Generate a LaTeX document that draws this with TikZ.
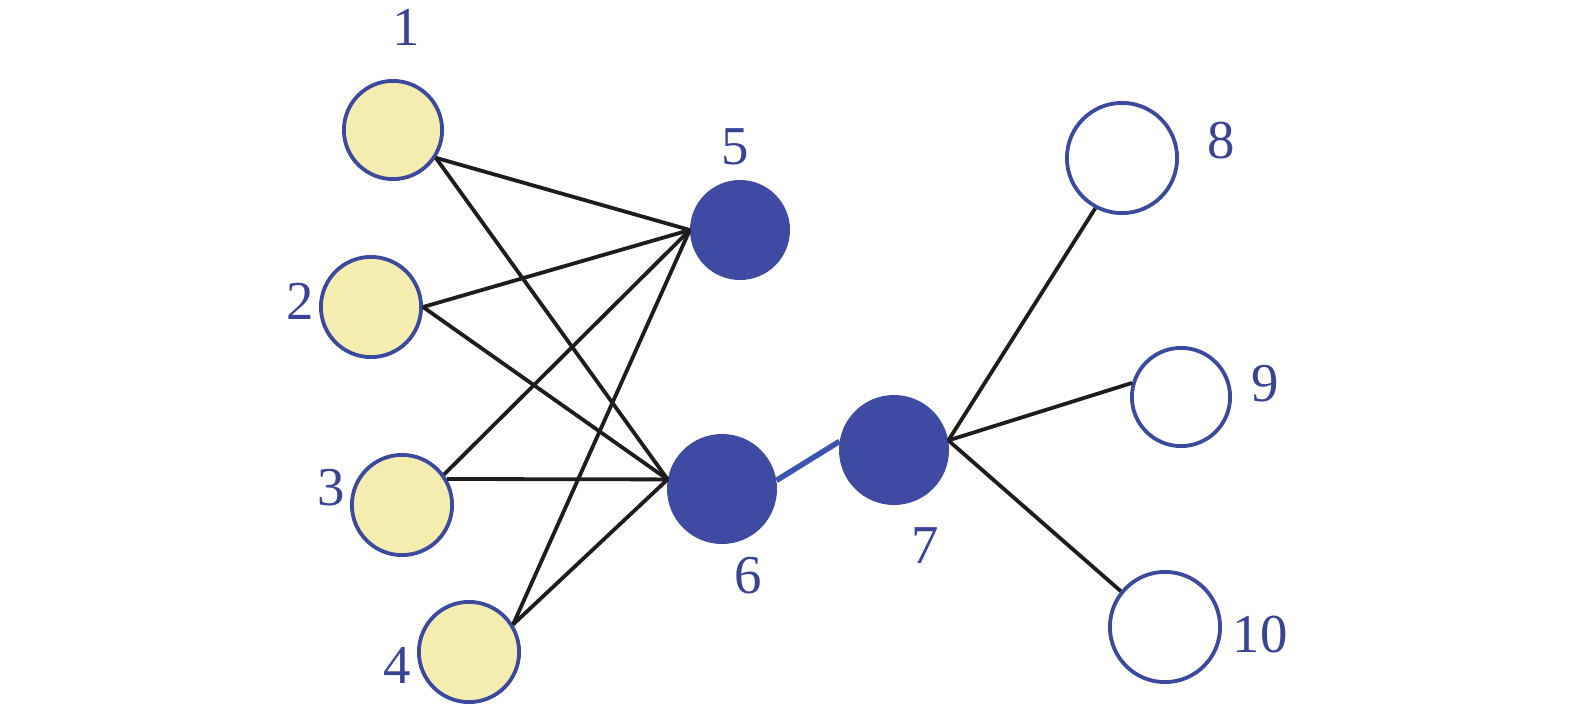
\documentclass[tikz,border=0pt]{standalone}
\usepackage{fontspec}
\setmainfont{Liberation Serif}
\definecolor{nblue}{HTML}{3F4AA3}
\definecolor{nborder}{HTML}{3C4A9E}
\definecolor{nyellow}{HTML}{F5ECB0}
\definecolor{lblue}{HTML}{3A55B0}
\definecolor{ltext}{HTML}{3A4496}
\definecolor{edgec}{HTML}{1E1C1C}
\begin{document}
\begin{tikzpicture}[x=1bp,y=-1bp,
  yellownode/.style={circle,inner sep=0pt,draw=nborder,fill=nyellow,line width=3.8bp,minimum size=#1},
  whitenode/.style={circle,inner sep=0pt,draw=nborder,fill=white,line width=3.8bp,minimum size=#1},
  bluenode/.style={circle,inner sep=0pt,fill=nblue,minimum size=#1},
  lbl/.style={anchor=base,inner sep=0pt,text=ltext,font=\fontsize{55}{60}\selectfont},
  edge/.style={draw=edgec,line width=3.8bp},
  bedge/.style={draw=lblue,line width=5.5bp}]
\useasboundingbox (0,0) rectangle (1575,705);
\node[yellownode=98.2bp] (n1) at (393,130) {};
\node[yellownode=100.2bp] (n2) at (371,307) {};
\node[yellownode=100.2bp] (n3) at (402,505) {};
\node[yellownode=100.2bp] (n4) at (469,652) {};
\node[bluenode=100bp] (n5) at (740,230) {};
\node[bluenode=110bp] (n6) at (722,489) {};
\node[bluenode=110bp] (n7) at (894,450) {};
\node[whitenode=110.2bp] (n8) at (1122,158) {};
\node[whitenode=98.2bp] (n9) at (1181,397) {};
\node[whitenode=110.2bp] (n10) at (1165,627) {};
\node[lbl] (l1) at (406,46) {1};
\node[lbl] (l2) at (300,319) {2};
\node[lbl] (l3) at (331,505) {3};
\node[lbl] (l4) at (397.5,683) {4};
\node[lbl] (l5) at (735,164) {5};
\node[lbl] (l6) at (748.5,593) {6};
\node[lbl] (l7) at (925,563) {7};
\node[lbl] (l8) at (1221.5,158) {8};
\node[lbl] (l9) at (1265.5,401) {9};
\node[lbl] (l10) at (1260,652) {10};
\draw[edge] (n1.-33.7) -- (n5.180);
\draw[edge] (n1.-33.7) -- (n6.170);
\draw[edge] (n2.0) -- (n5.180);
\draw[edge] (n2.0) -- (n6.170);
\draw[edge] (n3.36) -- (n5.180);
\draw[edge] (n3.30) -- (n6.170);
\draw[edge] (n4.32) -- (n5.180);
\draw[edge] (n4.32) -- (n6.170);
\draw[bedge] (n6.9) -- (n7.171);
\draw[edge] (n7.10) -- (n8.-118);
\draw[edge] (n7.10) -- (n9.164);
\draw[edge] (n7.10) -- (n10.141);
\end{tikzpicture}
\end{document}
